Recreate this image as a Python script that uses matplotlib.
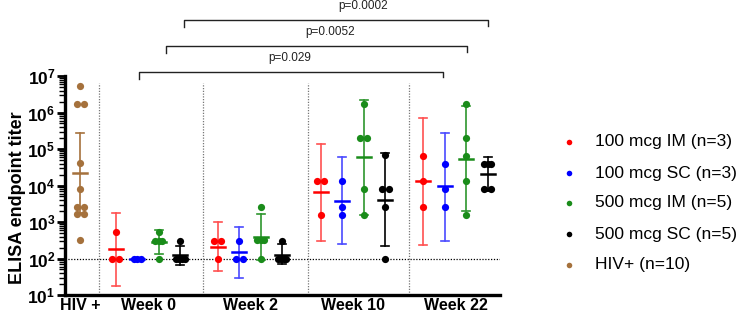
import numpy as np
import matplotlib
matplotlib.use('Agg')
import matplotlib.pyplot as plt
from matplotlib.lines import Line2D

plt.rcParams['font.family'] = ['Liberation Sans', 'DejaVu Sans']
plt.rcParams['mathtext.fontset'] = 'custom'
plt.rcParams['mathtext.rm'] = 'Liberation Sans:bold'
plt.rcParams['mathtext.bf'] = 'Liberation Sans:bold'
plt.rcParams['mathtext.it'] = 'Liberation Sans:bold'

# ---------------- data ----------------
timepoints = ['Week 0', 'Week 2', 'Week 10', 'Week 22']
groups = ['100 mcg IM (n=3)', '100 mcg SC (n=3)', '500 mcg IM (n=5)', '500 mcg SC (n=5)']
hiv_label = 'HIV+ (n=10)'
tick_labels = ['HIV +', 'Week 0', 'Week 2', 'Week 10', 'Week 22']

# individual endpoint titers, per timepoint, per group
im100 = [[520, 100, 100], [310, 310, 100], [13000, 13000, 1600], [66000, 13000, 2600]]
sc100 = [[100, 100, 100], [310, 100, 100], [13000, 2600, 1600], [40000, 8000, 2600]]
im500 = [[520, 310, 310, 310, 100], [2600, 330, 330, 330, 100],
         [1700000, 200000, 200000, 8000, 1600], [1700000, 200000, 66000, 13000, 1600]]
sc500 = [[310, 100, 100, 100, 100], [310, 100, 100, 100, 100],
         [69000, 8000, 8000, 2600, 100], [40000, 40000, 40000, 8000, 8000]]
hiv = [5200000, 1660000, 1660000, 41000, 7900, 2600, 2600, 1660, 1660, 320]

# geometric means and 95% CI bounds (log10 titer), per group, per timepoint
gm_im100 = [2.25, 2.32, 3.81, 4.12]; lo_im100 = [1.24, 1.65, 2.49, 2.38]; hi_im100 = [3.25, 3.01, 5.14, 5.86]
gm_sc100 = [2.00, 2.17, 3.58, 3.98]; lo_sc100 = [2.00, 1.47, 2.39, 2.49]; hi_sc100 = [2.00, 2.85, 4.77, 5.45]
gm_im500 = [2.44, 2.60, 4.78, 4.73]; lo_im500 = [2.12, 1.96, 3.18, 3.29]; hi_im500 = [2.77, 3.21, 6.33, 6.17]
gm_sc500 = [2.10, 2.10, 3.61, 4.32]; lo_sc500 = [1.83, 1.85, 2.33, 3.85]; hi_sc500 = [2.33, 2.39, 4.90, 4.79]
gm_hiv = 4.33; lo_hiv = 3.24; hi_hiv = 5.43

limit_of_detection = 100

# significance brackets (week 0 vs week 22)
comparisons = [('p=0.029', 0), ('p=0.0052', 1), ('p=0.0002', 2)]

# ---------------- styling ----------------
pt_colors = ['#ff0000', '#0000ff', '#1a8c1a', '#000000']
bar_colors = ['#ff5050', '#4a4aff', '#2e962e', '#000000']
hiv_color = '#a5713c'

fig = plt.figure(figsize=(7.38, 3.15), dpi=100)
ax = fig.add_axes([65/738, 20/315, 435/738, 219/315])
ax.set_yscale('log')
ax.set_ylim(10, 1e7)
ax.set_xlim(0.19, 4.434)

PX = 1/102.5  # one pixel in data x units
step = 0.21
centers = [1.0, 1.995, 3.0, 4.0]
hiv_x = 0.337


def spread(vals, x0):
    vals = np.asarray(vals, dtype=float)
    xs = np.full(len(vals), x0)
    keys = np.round(np.log10(vals), 2)
    for k in np.unique(keys):
        idx = np.where(keys == k)[0]
        n = len(idx)
        if n > 1:
            half = (3.5 if n <= 3 else 4.2) * PX
            xs[idx] = x0 + np.linspace(-half, half, n)
    return xs


def draw_group(x0, vals, gm, lo, hi, pcol, bcol, zorder=3):
    cap = 4 * PX
    mw = 7 * PX
    if hi > lo:
        ax.plot([x0, x0], [10**lo, 10**hi], color=bcol, lw=1.2, zorder=zorder)
        ax.plot([x0-cap, x0+cap], [10**hi]*2, color=bcol, lw=1.2, zorder=zorder)
        ax.plot([x0-cap, x0+cap], [10**lo]*2, color=bcol, lw=1.2, zorder=zorder)
    xs = spread(vals, x0)
    ax.plot(xs, vals, 'o', ms=5.2, color=pcol, mec='none', zorder=zorder+1)
    ax.plot([x0-mw, x0+mw], [10**gm]*2, color=pcol, lw=1.8, zorder=zorder+2)


all_series = [im100, sc100, im500, sc500]
all_gm = [gm_im100, gm_sc100, gm_im500, gm_sc500]
all_lo = [lo_im100, lo_sc100, lo_im500, lo_sc500]
all_hi = [hi_im100, hi_sc100, hi_im500, hi_sc500]

for t in range(len(timepoints)):
    for g in range(len(groups)):
        x0 = centers[t] + (g - 1.5) * step
        draw_group(x0, all_series[g][t], all_gm[g][t], all_lo[g][t], all_hi[g][t],
                   pt_colors[g], bar_colors[g])

draw_group(hiv_x, hiv, gm_hiv, lo_hiv, hi_hiv, hiv_color, hiv_color)

# reference lines
ax.axhline(limit_of_detection, color='black', lw=0.9, ls=(0, (1, 1.3)), zorder=1)
for xd in [0.522, 1.537, 2.565, 3.546]:
    ax.plot([xd, xd], [10, 10**6.8], color='#777777', lw=0.9, ls=(0, (1, 1.2)), zorder=1)

# significance brackets
br_y = [7.11, 7.82, 8.53]
br_left = [0.912, 1.176, 1.351]
br_right = [3.878, 4.112, 4.317]
txt_x = [2.38, 2.78, 3.10]
for (lab, i) in comparisons:
    y = 10**br_y[i]
    ax.plot([br_left[i], br_left[i], br_right[i], br_right[i]],
            [10**(br_y[i]-0.2), y, y, 10**(br_y[i]-0.15)],
            color='#222222', lw=1.0, clip_on=False, zorder=5)
    ax.text(txt_x[i], 10**(br_y[i]+0.22), lab, ha='center', va='bottom',
            fontsize=8.5, color='#222222', clip_on=False)

# axes styling
for s in ['top', 'right']:
    ax.spines[s].set_visible(False)
ax.spines['left'].set_linewidth(2.4)
ax.spines['bottom'].set_linewidth(2.4)
ax.set_xticks([hiv_x] + centers)
ax.set_xticklabels(tick_labels, fontsize=11.5, fontweight='bold')
ax.tick_params(axis='x', length=0, pad=2.5)
ax.set_yticks([10**k for k in range(1, 8)])
ax.set_yticklabels([r'$\mathbf{10^{%d}}$' % k for k in range(1, 8)], fontsize=12.5)
ax.yaxis.set_minor_locator(matplotlib.ticker.LogLocator(base=10, subs=np.arange(2, 10)))
ax.yaxis.set_minor_formatter(matplotlib.ticker.NullFormatter())
ax.tick_params(axis='y', which='major', length=6, width=2, pad=1, direction='out')
ax.tick_params(axis='y', which='minor', length=4, width=1, direction='out')

fig.text(18/738, 1 - 197.5/315, 'ELISA endpoint titer', rotation=90, ha='center',
         va='center', fontsize=13, fontweight='bold')

# legend
leg_y = [142, 173, 203, 234, 265]
leg_cols = pt_colors + [hiv_color]
leg_labels = groups + [hiv_label]
for yy, c, lab in zip(leg_y, leg_cols, leg_labels):
    fig.add_artist(Line2D([569/738], [1 - yy/315], marker='o', ms=4, color=c, mec='none',
                          transform=fig.transFigure))
    fig.text(595/738, 1 - yy/315, lab, ha='left', va='center', fontsize=12.5)

fig.savefig('out.png', dpi=100)
